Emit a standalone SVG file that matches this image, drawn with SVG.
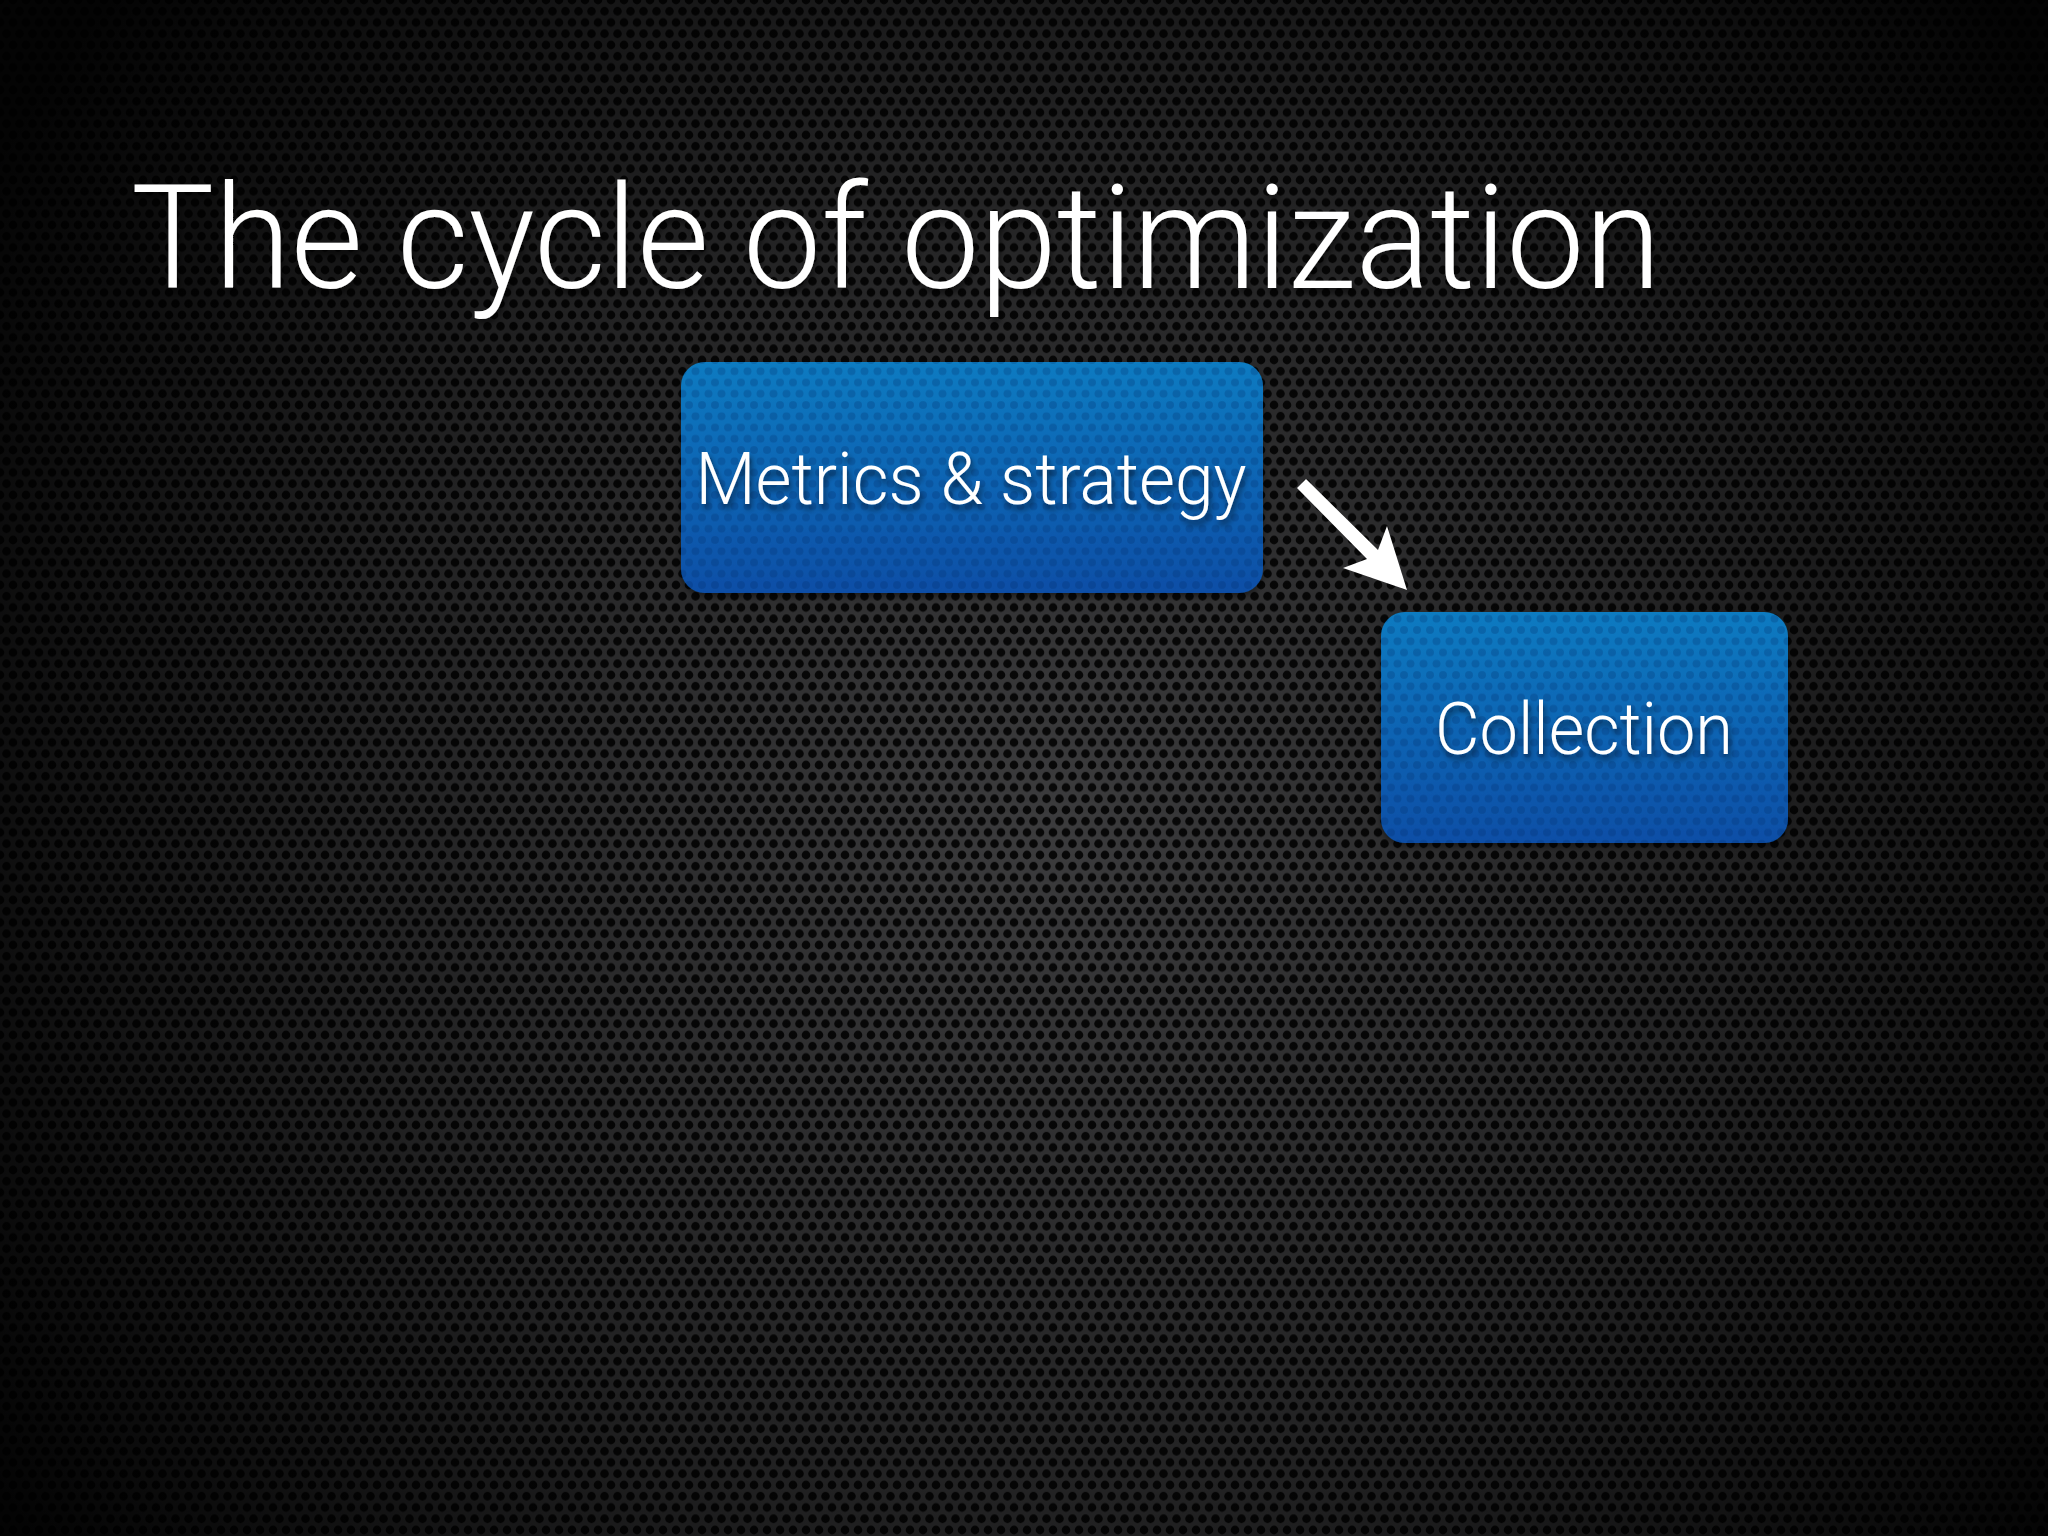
<svg xmlns="http://www.w3.org/2000/svg" width="2048" height="1536" viewBox="0 0 2048 1536">
  <style>
    .title { font-family: Roboto, "Liberation Sans", Arial, sans-serif; font-weight: 300; font-size: 144px; fill: #ffffff; }
    .label { font-family: Roboto, "Liberation Sans", Arial, sans-serif; font-weight: 300; font-size: 72px; fill: #ffffff; text-anchor: middle; }
    .box { fill: url(#boxGrad); }
    .boxDots { fill: url(#holesLight); }
    .arrow { fill: #ffffff; }
  </style>
  <defs>
    <pattern id="holes" width="13" height="22.5" patternUnits="userSpaceOnUse">
      <circle cx="0" cy="0" r="4.3" fill="#0a0a0a"/>
      <circle cx="13" cy="0" r="4.3" fill="#0a0a0a"/>
      <circle cx="0" cy="22.5" r="4.3" fill="#0a0a0a"/>
      <circle cx="13" cy="22.5" r="4.3" fill="#0a0a0a"/>
      <circle cx="6.5" cy="11.25" r="4.3" fill="#0a0a0a"/>
    </pattern>
    <pattern id="holesLight" width="13" height="22.5" patternUnits="userSpaceOnUse">
      <circle cx="0" cy="0" r="4" fill="#002a66" fill-opacity="0.25"/>
      <circle cx="13" cy="0" r="4" fill="#002a66" fill-opacity="0.25"/>
      <circle cx="0" cy="22.5" r="4" fill="#002a66" fill-opacity="0.25"/>
      <circle cx="13" cy="22.5" r="4" fill="#002a66" fill-opacity="0.25"/>
      <circle cx="6.5" cy="11.25" r="4" fill="#002a66" fill-opacity="0.25"/>
    </pattern>
    <radialGradient id="vignette" cx="1050" cy="820" r="1250" gradientUnits="userSpaceOnUse">
      <stop offset="0" stop-color="#000" stop-opacity="0.2"/>
      <stop offset="0.55" stop-color="#000" stop-opacity="0.55"/>
      <stop offset="1" stop-color="#000" stop-opacity="0.95"/>
    </radialGradient>
    <linearGradient id="boxGrad" x1="0" y1="0" x2="0" y2="1">
      <stop offset="0" stop-color="#0b7bc1"/>
      <stop offset="1" stop-color="#0a4ea6"/>
    </linearGradient>
    <filter id="txtShadow" x="-10%" y="-30%" width="120%" height="160%">
      <feDropShadow dx="2" dy="5" stdDeviation="3" flood-color="#000" flood-opacity="0.55"/>
    </filter>
    <filter id="boxShadow" x="-10%" y="-10%" width="120%" height="130%">
      <feDropShadow dx="0" dy="3" stdDeviation="3" flood-color="#000" flood-opacity="0.5"/>
    </filter>
  </defs>

  <g id="background">
    <rect x="0" y="0" width="2048" height="1536" fill="#4a4a4c"/>
    <rect x="0" y="0" width="2048" height="1536" fill="url(#holes)"/>
    <rect x="0" y="0" width="2048" height="1536" fill="url(#vignette)"/>
  </g>

  <g id="title">
    <text class="title" x="131" y="288" textLength="1530" lengthAdjust="spacingAndGlyphs" filter="url(#txtShadow)">The cycle of optimization</text>
  </g>

  <g id="connectors">
    <polygon class="arrow" points="1306,479 1378,550 1387,526 1407,590 1343,568 1367,559 1297,488"/>
  </g>

  <g id="node-metrics">
    <rect class="box" x="681" y="362" width="582" height="231" rx="24" filter="url(#boxShadow)"/>
    <rect class="boxDots" x="681" y="362" width="582" height="231" rx="24"/>
    <text class="label" x="971" y="504" textLength="551" lengthAdjust="spacingAndGlyphs" filter="url(#txtShadow)">Metrics &amp; strategy</text>
  </g>

  <g id="node-collection">
    <rect class="box" x="1381" y="612" width="407" height="231" rx="24" filter="url(#boxShadow)"/>
    <rect class="boxDots" x="1381" y="612" width="407" height="231" rx="24"/>
    <text class="label" x="1584" y="754" textLength="298" lengthAdjust="spacingAndGlyphs" filter="url(#txtShadow)">Collection</text>
  </g>
</svg>
